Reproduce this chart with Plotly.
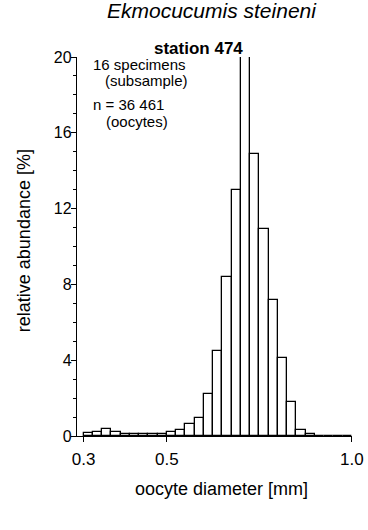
import plotly.graph_objects as go

# bin index (0.3 mm at index 0, 0.5 at 9, 1.0 at 29)
bin_index = list(range(29))
abundance = [0.15, 0.22, 0.35, 0.20, 0.10, 0.08, 0.10, 0.12, 0.10, 0.22,
             0.30, 0.65, 0.95, 2.2, 4.5, 8.4, 13.0, 20.0, 14.9, 10.9,
             7.2, 4.1, 1.8, 0.30, 0.08, 0.02, 0.01, 0.0, 0.0]
tick_positions = [0, 9, 29]
tick_labels = ["0.3", "0.5", "1.0"]
y_ticks = [0, 4, 8, 12, 16, 20]

FONT = "Liberation Sans, Arial, sans-serif"

fig = go.Figure()
fig.add_trace(go.Bar(
    x=[i + 0.5 for i in bin_index],
    y=abundance,
    width=1.0,
    cliponaxis=False,
    marker=dict(color="white", line=dict(color="black", width=1.3)),
    showlegend=False,
))

fig.update_layout(
    width=368, height=530,
    margin=dict(l=77, r=4, t=57, b=94),
    paper_bgcolor="white", plot_bgcolor="white",
    font=dict(family=FONT, size=16, color="black"),
    bargap=0,
    xaxis=dict(
        range=[-0.72, 29.02], showgrid=False, zeroline=False,
        showline=True, linecolor="black", linewidth=1.3,
        ticks="outside", ticklen=5, tickwidth=1.2, tickcolor="black",
        tickvals=tick_positions, ticktext=tick_labels,
        tickfont=dict(size=17), ticklabelstandoff=2,
        ticklabeloverflow="allow",
    ),
    yaxis=dict(
        range=[0, 20], showgrid=False, zeroline=False,
        showline=True, linecolor="black", linewidth=1.3,
        ticks="outside", ticklen=5, tickwidth=1.2, tickcolor="black",
        tickvals=y_ticks, tickfont=dict(size=16),
        minor=dict(dtick=1, ticks="outside", ticklen=3, tickcolor="black", tickwidth=1),
        ticklabelstandoff=-4,
    ),
    annotations=[
        dict(text="<i>Ekmocucumis steineni</i>", xref="paper", yref="paper",
             x=0.49, y=1.124, showarrow=False, font=dict(size=21), xanchor="center", yanchor="middle"),
        dict(text="<b>station 474</b>", xref="paper", yref="paper",
             x=0.442, y=1.022, showarrow=False, font=dict(size=17), xanchor="center", yanchor="middle"),
        dict(text="16 specimens", xref="paper", yref="y", x=0.052, y=19.63,
             showarrow=False, xanchor="left", yanchor="middle", font=dict(size=15)),
        dict(text="(subsample)", xref="paper", yref="y", x=0.096, y=18.75,
             showarrow=False, xanchor="left", yanchor="middle", font=dict(size=15)),
        dict(text="n = 36 461", xref="paper", yref="y", x=0.052, y=17.5,
             showarrow=False, xanchor="left", yanchor="middle", font=dict(size=15)),
        dict(text="(oocytes)", xref="paper", yref="y", x=0.099, y=16.62,
             showarrow=False, xanchor="left", yanchor="middle", font=dict(size=15)),
        dict(text="oocyte diameter [mm]", xref="paper", yref="paper", x=0.527, y=-0.139,
             showarrow=False, xanchor="center", yanchor="middle", font=dict(size=18)),
        dict(text="relative abundance [%]", xref="paper", yref="paper", x=-0.19, y=0.516,
             showarrow=False, xanchor="center", yanchor="middle", textangle=-90, font=dict(size=18)),
    ],
)

fig.write_html("out.html")
